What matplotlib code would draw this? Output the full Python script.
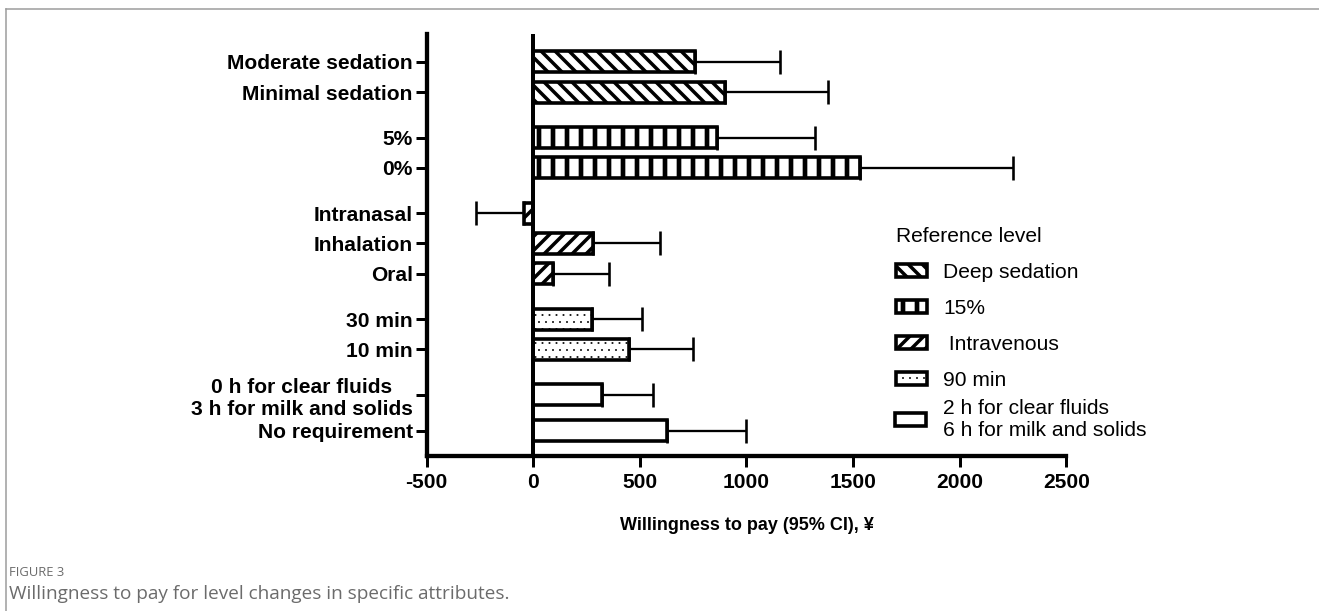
import matplotlib
matplotlib.use("Agg")
import matplotlib.pyplot as plt
from matplotlib.lines import Line2D
import numpy as np

DPI = 84
W, H = 1319, 611


def pt(pixels):
    return pixels * 72.0 / DPI


plt.rcParams["font.family"] = ["Liberation Sans", "DejaVu Sans"]
plt.rcParams["axes.unicode_minus"] = False

# ---------------- data ----------------
depth_labels = ["Moderate sedation", "Minimal sedation"]
depth_wtp = [758, 898]
depth_ci = [1157, 1381]

risk_labels = ["5%", "0%"]
risk_wtp = [860, 1532]
risk_ci = [1322, 2252]

route_labels = ["Intranasal", "Inhalation", "Oral"]
route_wtp = [-45, 280, 92]
route_ci = [-268, 595, 353]

time_labels = ["30 min", "10 min"]
time_wtp = [277, 450]
time_ci = [512, 749]

fast_labels = ["0 h for clear fluids\n3 h for milk and solids", "No requirement"]
fast_wtp = [320, 625]
fast_ci = [560, 999]

reference_levels = ["Deep sedation", "15%", " Intravenous", "90 min",
                    "2 h for clear fluids\n6 h for milk and solids"]
x_ticks = [-500, 0, 500, 1000, 1500, 2000, 2500]
x_label = "Willingness to pay (95% CI), ¥"

# ---------------- styling / layout ----------------
groups = [
    (depth_labels, depth_wtp, depth_ci, "\\\\", 3.0),
    (risk_labels, risk_wtp, risk_ci, "|", 4.0),
    (route_labels, route_wtp, route_ci, "//", 3.0),
    (time_labels, time_wtp, time_ci, "..", 0.45),
    (fast_labels, fast_wtp, fast_ci, None, 1.0),
]
in_step = [1.0, 1.0, 1.0, 1.0, 1.19]
group_gap = 1.5

fig = plt.figure(figsize=(W / DPI, H / DPI), dpi=DPI)
ax = fig.add_axes([426.7 / W, 1 - 456 / H, (1066.3 - 426.7) / W, (456 - 34) / H])

all_pos, all_labels = [], []
handles, hlws = [], []
pos = None
for gi, (labels, vals, ci, hatch, hlw) in enumerate(groups):
    positions = []
    for i in range(len(labels)):
        if pos is None:
            pos = 0.0
        elif i == 0:
            pos += group_gap
        else:
            pos += in_step[gi]
        positions.append(pos)
    vals = np.array(vals, dtype=float)
    ci = np.array(ci, dtype=float)
    with plt.rc_context({"hatch.linewidth": hlw}):
        bars = ax.barh(positions, vals, height=0.7, color="white",
                       edgecolor="black", linewidth=pt(3.6), hatch=hatch,
                       label=reference_levels[gi], zorder=3)
    for b in bars:
        if hasattr(b, "set_hatch_linewidth"):
            b.set_hatch_linewidth(hlw)
    handles.append(bars)
    hlws.append(hlw)
    lo = np.where(vals < 0, vals - ci, 0)
    hi = np.where(vals >= 0, ci - vals, 0)
    ax.errorbar(vals, positions, xerr=[lo, hi], fmt="none", ecolor="black",
                elinewidth=pt(2.3), capsize=pt(12), capthick=pt(2.6), zorder=2)
    all_pos += positions
    all_labels += labels

ax.axvline(0, color="black", lw=pt(4), zorder=4)

ax.set_xlim(-500, 2500)
ax.set_ylim(all_pos[-1] + 0.83, -0.92)
ax.set_xticks(x_ticks)
ax.set_xticklabels([str(t) for t in x_ticks], fontweight="bold")
ax.set_yticks(all_pos)
ax.set_yticklabels(all_labels, fontweight="bold", multialignment="center")

for s in ["top", "right"]:
    ax.spines[s].set_visible(False)
for s in ["left", "bottom"]:
    ax.spines[s].set_linewidth(pt(4.3))
ax.tick_params(axis="both", direction="out", length=pt(11), width=pt(3),
               labelsize=pt(21), colors="black")
ax.tick_params(axis="y", pad=pt(3))
ax.tick_params(axis="x", pad=pt(6))

ax.set_xlabel(x_label, fontsize=pt(18), fontweight="bold", labelpad=pt(24.5))

leg_kw = dict(frameon=False, fontsize=pt(21), handlelength=1.48, handleheight=0.57,
              handletextpad=0.8, borderaxespad=0, bbox_transform=fig.transFigure)
leg1 = ax.legend(handles[:4], reference_levels[:4], title="Reference level",
                 title_fontsize=pt(21), loc="upper left",
                 bbox_to_anchor=(884 / W, 1 - 215 / H), labelspacing=0.81,
                 borderpad=0.55, alignment="left", **leg_kw)
ax.add_artist(leg1)
leg2 = ax.legend(handles[4:], reference_levels[4:], loc="center left",
                 bbox_to_anchor=(895 / W, 1 - 419 / H), borderpad=0, **leg_kw)
for leg, lws in ((leg1, hlws[:4]), (leg2, hlws[4:])):
    hs = getattr(leg, "legend_handles", None) or getattr(leg, "legendHandles", [])
    for h, lw in zip(hs, lws):
        if hasattr(h, "set_hatch_linewidth"):
            h.set_hatch_linewidth(lw)

# page frame and caption
fig.add_artist(Line2D([6 / W, 1], [1 - 9 / H, 1 - 9 / H], transform=fig.transFigure,
                      color="#9a9a9a", lw=pt(1.5)))
fig.add_artist(Line2D([6 / W, 6 / W], [0, 1 - 9 / H], transform=fig.transFigure,
                      color="#9a9a9a", lw=pt(1.5)))
fig.text(9 / W, 1 - 572 / H, "FIGURE 3", fontsize=pt(13), color="#6b6b6b",
         va="center", ha="left", family=["Open Sans", "DejaVu Sans"])
fig.text(9 / W, 1 - 594 / H, "Willingness to pay for level changes in specific attributes.",
         fontsize=pt(19), color="#6b6b6b", va="center", ha="left",
         family=["Open Sans", "DejaVu Sans"])

fig.savefig("out.png", dpi=DPI)
